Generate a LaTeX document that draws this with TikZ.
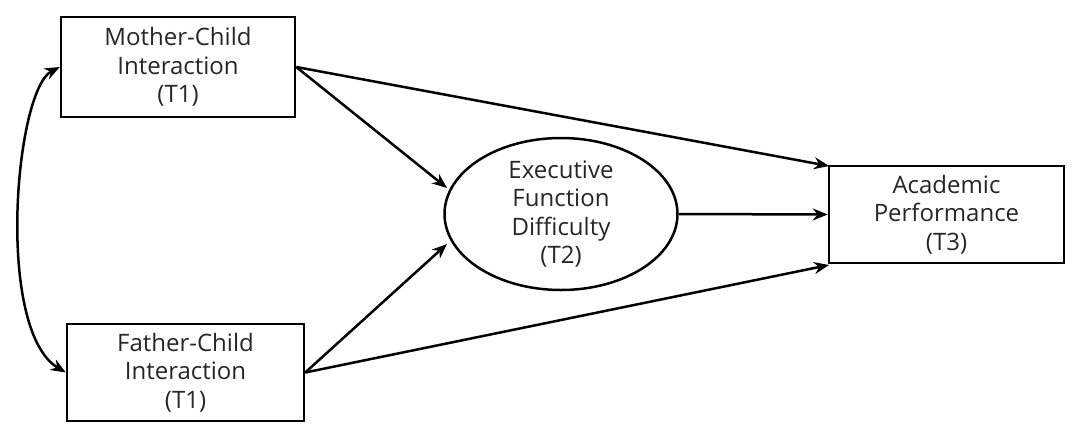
\documentclass[tikz,border=0pt]{standalone}
\usepackage{fontspec}
\setmainfont{Open Sans}
\usetikzlibrary{arrows.meta,shapes.geometric}
\begin{document}
\begin{tikzpicture}[x=1pt,y=-1pt,
  box/.style={draw,line width=2.5pt,inner sep=0pt,align=center,font=\fontsize{24}{28.5}\selectfont,text=black!85},
  conn/.style={line width=2.5pt,-{Stealth[length=15pt,width=12pt]}},
  both/.style={line width=2.5pt,{Stealth[length=15pt,width=12pt]}-{Stealth[length=15pt,width=12pt]}}]
\useasboundingbox (0,0) rectangle (1077,426);
\node[box,minimum width=234pt,minimum height=100pt] (mc) at (178,67) {Mother-Child\\Interaction\\(T1)};
\node[box,minimum width=237pt,minimum height=97pt] (fc) at (185.5,372.5) {Father-Child\\Interaction\\(T1)};
\node[box,ellipse,minimum width=233pt,minimum height=152pt] (ef) at (561,214) {Executive\\Function\\Difficulty\\(T2)};
\node[box,minimum width=235pt,minimum height=97pt] (ap) at (946.5,214.5) {Academic\\Performance\\(T3)};
\coordinate (mcR) at (mc.east);
\coordinate (fcR) at (fc.east);
\coordinate (apT) at (829,166);
\coordinate (apB) at (829,265);
\coordinate (efTL) at (447,188);
\coordinate (efBL) at (447,244);
\draw[conn] (mcR) -- (apT);
\draw[conn] (mcR) -- (efTL);
\draw[conn] (fcR) -- (efBL);
\draw[conn] (fcR) -- (apB);
\draw[conn] (ef.east) -- (ap.west);
\draw[both] (mc.west) .. controls (15,90) and (-5,330) .. (fc.west);
\end{tikzpicture}
\end{document}
